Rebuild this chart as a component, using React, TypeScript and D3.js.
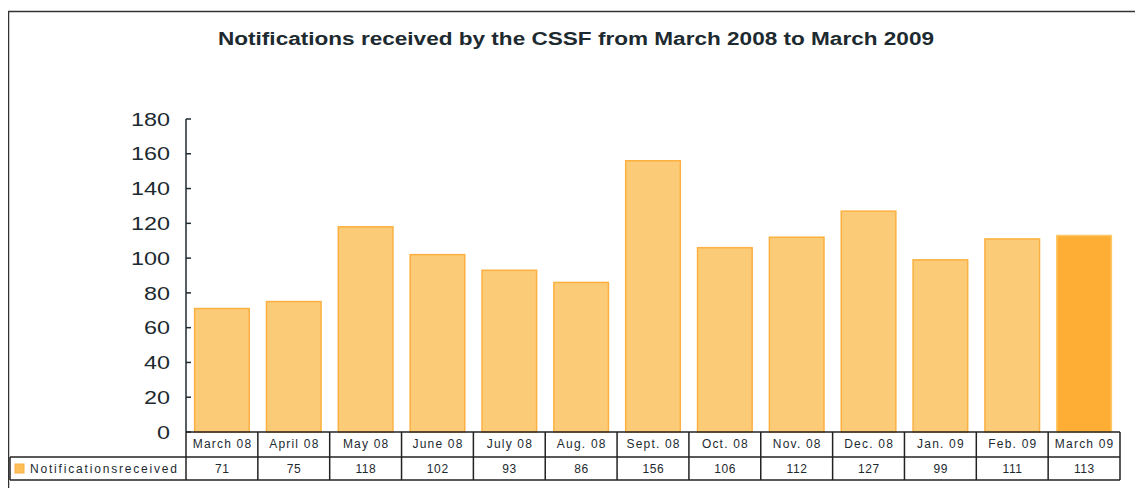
import React, { useRef, useEffect } from "react";
import * as d3 from "d3";

// categories & values
const months = ["March 08", "April 08", "May 08", "June 08", "July 08", "Aug. 08", "Sept. 08", "Oct. 08", "Nov. 08", "Dec. 08", "Jan. 09", "Feb. 09", "March 09"];
const notifications = [71, 75, 118, 102, 93, 86, 156, 106, 112, 127, 99, 111, 113];
const yTicks = [0, 20, 40, 60, 80, 100, 120, 140, 160, 180];
const seriesName = "Notificationsreceived";

export default function App() {
  const ref = useRef<SVGSVGElement>(null);

  useEffect(() => {
    const svg = d3.select(ref.current);
    svg.selectAll("*").remove();
    const font = "Liberation Sans, Arial, sans-serif";
    const ink = "#1d2a30";

    // outer frame (runs off the bottom)
    svg.append("rect")
      .attr("x", 0.5).attr("y", 3.5)
      .attr("width", 1129).attr("height", 500)
      .attr("fill", "none").attr("stroke", "#333").attr("stroke-width", 1.5);

    // title, glyphs stretched like the original export
    svg.append("text")
      .attr("x", 210).attr("y", 37)
      .attr("textLength", 716).attr("lengthAdjust", "spacingAndGlyphs")
      .attr("font-family", font).attr("font-weight", "bold")
      .attr("font-size", 18)
      .attr("fill", ink)
      .text("Notifications received by the CSSF from March 2008 to March 2009");

    const left = 178, right = 1112;
    const x = d3.scaleBand().domain(months).range([left, right]).paddingInner(0.24).paddingOuter(0.12);
    const y = d3.scaleLinear().domain([0, 180]).range([424, 111]);
    const step = x.step();

    // bars
    svg.append("g").selectAll("rect")
      .data(months)
      .join("rect")
      .attr("x", (d) => x(d)!)
      .attr("y", (d, i) => y(notifications[i]))
      .attr("width", x.bandwidth())
      .attr("height", (d, i) => y(0) - y(notifications[i]))
      .attr("fill", (d, i) => (i === months.length - 1 ? "#ffae35" : "#fccb78"))
      .attr("stroke", (d, i) => (i === months.length - 1 ? "#ffc866" : "#fbb040"))
      .attr("stroke-width", 1.5);

    // y axis
    const axis = svg.append("g").attr("transform", `translate(${left},0)`);
    axis.append("line")
      .attr("x1", 0).attr("x2", 0).attr("y1", y(180)).attr("y2", y(0))
      .attr("stroke", ink).attr("stroke-width", 1.5);
    axis.selectAll("line.tick")
      .data(yTicks)
      .join("line")
      .attr("class", "tick")
      .attr("x1", 0).attr("x2", 5)
      .attr("y1", (d) => y(d)).attr("y2", (d) => y(d))
      .attr("stroke", ink).attr("stroke-width", 1.5);
    axis.selectAll("text")
      .data(yTicks)
      .join("text")
      .attr("x", -16)
      .attr("y", (d) => y(d))
      .attr("dy", "0.35em")
      .attr("text-anchor", "end")
      .attr("textLength", (d) => String(d).length * 13)
      .attr("lengthAdjust", "spacingAndGlyphs")
      .attr("font-family", font).attr("font-size", 19)
      .attr("fill", ink)
      .text((d) => d);

    // data table
    const rowTop = y(0), rowMid = rowTop + 25, rowBot = rowMid + 23;
    const tbl = svg.append("g").attr("stroke", "#222").attr("stroke-width", 1.5);
    tbl.append("line").attr("x1", left).attr("x2", right).attr("y1", rowTop).attr("y2", rowTop);
    tbl.append("line").attr("x1", 2).attr("x2", right).attr("y1", rowMid).attr("y2", rowMid);
    tbl.append("line").attr("x1", 2).attr("x2", right).attr("y1", rowBot).attr("y2", rowBot);
    tbl.append("line").attr("x1", 2).attr("x2", 2).attr("y1", rowMid).attr("y2", rowBot);
    d3.range(months.length + 1).forEach((i) => {
      tbl.append("line")
        .attr("x1", left + i * step).attr("x2", left + i * step)
        .attr("y1", rowTop).attr("y2", rowBot);
    });

    const cells = svg.append("g").attr("font-family", font).attr("font-size", 12).attr("fill", ink).attr("text-anchor", "middle");
    months.forEach((m, i) => {
      const cx = left + (i + 0.5) * step;
      cells.append("text").attr("x", cx + 0.6).attr("y", rowTop + 16).attr("letter-spacing", 1.2).text(m);
      cells.append("text").attr("x", cx + 0.3).attr("y", rowMid + 16).attr("letter-spacing", 0.6).text(notifications[i]);
    });

    svg.append("rect")
      .attr("x", 7).attr("y", rowMid + 7).attr("width", 9).attr("height", 9)
      .attr("fill", "#fcbf5a").attr("stroke", "#fbb040");
    svg.append("text")
      .attr("x", 22).attr("y", rowMid + 16)
      .attr("textLength", 147).attr("lengthAdjust", "spacing")
      .attr("font-family", font).attr("font-size", 12)
      .attr("fill", ink)
      .text(seriesName);
  }, []);

  return <svg ref={ref} width={1135} height={480} style={{ display: "block" }} />;
}
